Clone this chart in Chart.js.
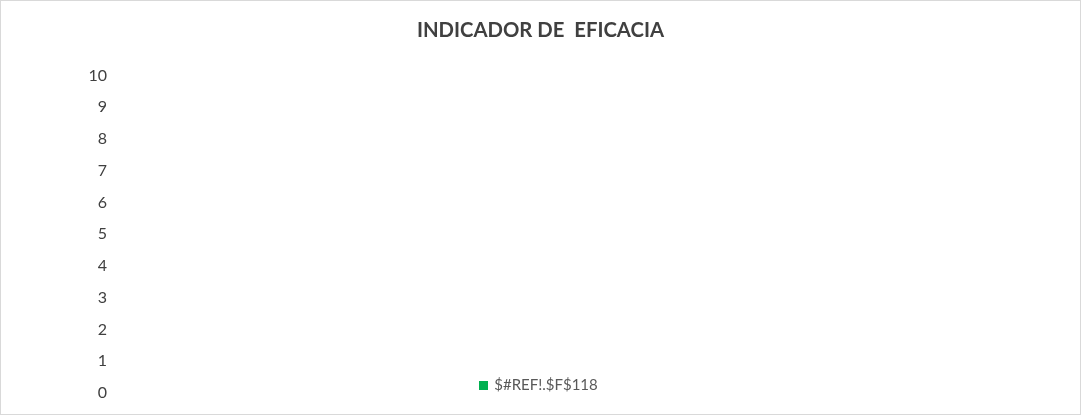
<!DOCTYPE html>
<html>
<head>
<meta charset="utf-8">
<script src="https://cdn.jsdelivr.net/npm/chart.js@4/dist/chart.umd.min.js"></script>
<style>
  html, body { margin: 0; padding: 0; background: #fff; }
  #wrap { position: relative; width: 1081px; height: 415px; }
  #wrap canvas { position: absolute; left: 0; top: 0; }
  #frame { position: absolute; left: 0; top: 0; width: 1081px; height: 415px; box-sizing: border-box; border: 1px solid #d9d9d9; pointer-events: none; }
</style>
</head>
<body>
<div id="wrap">
  <canvas id="c" width="1081" height="415"></canvas>
  <div id="frame"></div>
</div>
<script>
const chartTitle = 'INDICADOR DE  EFICACIA';
const categories = [];
const seriesName = '$#REF!.$F$118';
const seriesValues = [];
const yMin = 0;
const yMax = 10;
const yStep = 1;

const legendPlugin = {
  id: 'bottomLegend',
  afterDraw(chart) {
    const ctx = chart.ctx;
    const ds = chart.data.datasets[0];
    ctx.save();
    ctx.font = '15px Lato';
    const tw = ctx.measureText(ds.label).width;
    const box = 9, gap = 6;
    const total = box + gap + tw;
    const x0 = chart.width / 2 - total / 2 - 2;
    const cy = 385.5;
    ctx.fillStyle = ds.backgroundColor;
    ctx.fillRect(Math.round(x0), Math.round(cy - box / 2), box, box);
    ctx.fillStyle = '#595959';
    ctx.textBaseline = 'middle';
    ctx.textAlign = 'left';
    ctx.fillText(ds.label, x0 + box + gap, cy);
    ctx.restore();
  }
};

new Chart(document.getElementById('c'), {
  type: 'bar',
  data: {
    labels: categories,
    datasets: [{ label: seriesName, data: seriesValues, backgroundColor: '#00B050' }]
  },
  options: {
    responsive: false,
    animation: false,
    layout: { padding: { left: 0, right: 0, top: 0, bottom: 22 } },
    plugins: {
      legend: { display: false },
      tooltip: { enabled: false },
      title: {
        display: true,
        text: chartTitle,
        color: '#404040',
        font: { family: 'Lato', size: 20.3, weight: 'bold' },
        padding: { top: 18, bottom: 33 }
      }
    },
    scales: {
      x: { display: false },
      y: {
        min: yMin, max: yMax,
        afterFit(scale) { scale.width = 107; },
        grid: { display: false, drawTicks: false },
        border: { display: false },
        ticks: {
          stepSize: yStep,
          padding: 0,
          color: '#404040',
          font: { family: 'Lato', size: 16 }
        }
      }
    }
  },
  plugins: [legendPlugin]
});
</script>
</body>
</html>
